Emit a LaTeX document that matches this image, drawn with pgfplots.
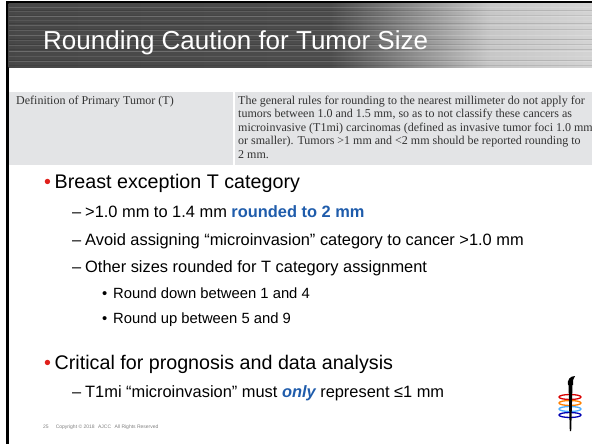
\documentclass[border=0pt]{standalone}
\usepackage{pgfplots}
\pgfplotsset{compat=1.18}
\usepackage{fontspec}
\setmainfont{Liberation Sans}
\newfontfamily\serif{Liberation Serif}
\definecolor{band}{HTML}{E3E4E6}
\definecolor{tabtext}{HTML}{333333}
\definecolor{blu}{HTML}{1F5CAB}
\definecolor{bul}{HTML}{E0201B}
\definecolor{foot}{HTML}{808080}
\begin{document}
\begin{tikzpicture}
\begin{axis}[
  scale only axis, width=592pt, height=444pt,
  xmin=0, xmax=592, ymin=0, ymax=444, y dir=reverse,
  axis lines=none, clip=false, ticks=none]
% gray definition band
\addplot[fill=band, draw=none] coordinates {(9,92.5) (592,92.5) (592,165) (9,165)} -- cycle;
\draw[white, line width=1.2pt] (axis cs:234,92.5) -- (axis cs:234,165);
% header
\fill[black] (axis cs:6,1.5) rectangle (axis cs:592,4);
\fill[black] (axis cs:6,1.5) rectangle (axis cs:8.5,444);
\fill[left color=black!72, right color=black!70] (axis cs:8.5,4) rectangle (axis cs:330,68);
\fill[left color=black!70, right color=black!22] (axis cs:330,4) rectangle (axis cs:490,68);
\fill[left color=black!22, right color=black!17] (axis cs:490,4) rectangle (axis cs:592,68);
\draw[white, opacity=0.15, line width=1pt] (axis cs:8.5,8) -- (axis cs:592,8);
\draw[white, opacity=0.10, line width=1pt] (axis cs:8.5,12) -- (axis cs:592,12);
\draw[white, opacity=0.20, line width=1pt] (axis cs:8.5,17) -- (axis cs:592,17);
\draw[white, opacity=0.08, line width=1pt] (axis cs:8.5,21) -- (axis cs:592,21);
\draw[white, opacity=0.15, line width=1pt] (axis cs:8.5,26) -- (axis cs:592,26);
\draw[white, opacity=0.12, line width=1pt] (axis cs:8.5,31) -- (axis cs:592,31);
\draw[white, opacity=0.18, line width=1pt] (axis cs:8.5,36) -- (axis cs:592,36);
\draw[white, opacity=0.10, line width=1pt] (axis cs:8.5,41) -- (axis cs:592,41);
\draw[white, opacity=0.14, line width=1pt] (axis cs:8.5,46) -- (axis cs:592,46);
\draw[white, opacity=0.20, line width=1pt] (axis cs:8.5,52) -- (axis cs:592,52);
\draw[white, opacity=0.10, line width=1pt] (axis cs:8.5,57) -- (axis cs:592,57);
\draw[white, opacity=0.16, line width=1pt] (axis cs:8.5,62) -- (axis cs:592,62);
\draw[black, opacity=0.12, line width=0.8pt] (axis cs:8.5,10) -- (axis cs:592,10);
\draw[black, opacity=0.08, line width=0.8pt] (axis cs:8.5,15) -- (axis cs:592,15);
\draw[black, opacity=0.12, line width=0.8pt] (axis cs:8.5,23) -- (axis cs:592,23);
\draw[black, opacity=0.10, line width=0.8pt] (axis cs:8.5,29) -- (axis cs:592,29);
\draw[black, opacity=0.14, line width=0.8pt] (axis cs:8.5,39) -- (axis cs:592,39);
\draw[black, opacity=0.10, line width=0.8pt] (axis cs:8.5,44) -- (axis cs:592,44);
\draw[black, opacity=0.12, line width=0.8pt] (axis cs:8.5,49) -- (axis cs:592,49);
\draw[black, opacity=0.12, line width=0.8pt] (axis cs:8.5,60) -- (axis cs:592,60);
\draw[black, opacity=0.10, line width=0.8pt] (axis cs:8.5,65) -- (axis cs:592,65);
\node[anchor=base west, white, inner sep=0, font=\fontsize{26}{28}\selectfont] at (axis cs:43,50) {Rounding Caution for Tumor Size};
% table text
\begin{scope}[every node/.style={anchor=base west, inner sep=0, text=tabtext, font=\serif\fontsize{12}{14}\selectfont}]
\node at (axis cs:16,104) {Definition of Primary Tumor (T)};
\node at (axis cs:238,104) {The general rules for rounding to the nearest millimeter do not apply for};
\node at (axis cs:238,117.5) {tumors between 1.0 and 1.5 mm, so as to not classify these cancers as};
\node at (axis cs:238,131) {microinvasive (T1mi) carcinomas (defined as invasive tumor foci 1.0 mm};
\node at (axis cs:238,144.5) {or smaller). Tumors >1 mm and <2 mm should be reported rounding to};
\node at (axis cs:238,158) {2 mm.};
\end{scope}
% bullets
\begin{scope}[every node/.style={anchor=base west, inner sep=0}]
\node[text=bul, font=\fontsize{19.7}{21}\selectfont] at (axis cs:44,188) {•};
\node[font=\fontsize{19.7}{21}\selectfont] at (axis cs:54.5,188) {Breast exception T category};
\node[font=\fontsize{16.4}{18}\selectfont] at (axis cs:72,217) {–};
\node[font=\fontsize{16.4}{18}\selectfont] at (axis cs:85,217) {>1.0 mm to 1.4 mm \textcolor{blu}{\bfseries rounded to 2 mm}};
\node[font=\fontsize{16.4}{18}\selectfont] at (axis cs:72,245.5) {–};
\node[font=\fontsize{16.4}{18}\selectfont] at (axis cs:85,245.5) {Avoid assigning “microinvasion” category to cancer >1.0 mm};
\node[font=\fontsize{16.4}{18}\selectfont] at (axis cs:72,272.5) {–};
\node[font=\fontsize{16.4}{18}\selectfont] at (axis cs:85,272.5) {Other sizes rounded for T category assignment};
\node[font=\fontsize{14.8}{16}\selectfont] at (axis cs:102,298) {•};
\node[font=\fontsize{14.8}{16}\selectfont] at (axis cs:113,298) {Round down between 1 and 4};
\node[font=\fontsize{14.8}{16}\selectfont] at (axis cs:102,323) {•};
\node[font=\fontsize{14.8}{16}\selectfont] at (axis cs:113,323) {Round up between 5 and 9};
\node[text=bul, font=\fontsize{19.7}{21}\selectfont] at (axis cs:44,369.5) {•};
\node[font=\fontsize{19.7}{21}\selectfont] at (axis cs:54.5,369.5) {Critical for prognosis and data analysis};
\node[font=\fontsize{16.4}{18}\selectfont] at (axis cs:72,397.5) {–};
\node[font=\fontsize{16.4}{18}\selectfont] at (axis cs:85,397.5) {T1mi “microinvasion” must \textcolor{blu}{\bfseries\itshape only} represent ≤1 mm};
\node[text=foot, font=\fontsize{5}{6}\selectfont] at (axis cs:43,428.5) {25\hspace{7pt}Copyright © 2018\hspace{2pt} AJCC\hspace{2pt} All Rights Reserved};
\end{scope}
% logo
\draw[red!85!black, line width=1.3pt] (axis cs:570,397) ellipse [x radius=11, y radius=2.5];
\draw[orange, line width=1.3pt] (axis cs:570,403) ellipse [x radius=11, y radius=2.5];
\draw[blue!45!cyan!70!white, line width=1.3pt] (axis cs:570,409) ellipse [x radius=11, y radius=2.5];
\draw[blue!70!black, line width=1.3pt] (axis cs:570,415) ellipse [x radius=11, y radius=2.5];
\fill[black] (axis cs:568.5,384) -- (axis cs:572.5,384) -- (axis cs:571.2,431) -- (axis cs:569.8,431) -- cycle;
\fill[black] (axis cs:568,385) .. controls (axis cs:567,380) and (axis cs:570,376) .. (axis cs:575,376) .. controls (axis cs:573,378) and (axis cs:573,381) .. (axis cs:573,385) -- cycle;
\end{axis}
\pgfresetboundingbox
\useasboundingbox (current axis.south west) rectangle (current axis.north east);
\end{tikzpicture}
\end{document}
